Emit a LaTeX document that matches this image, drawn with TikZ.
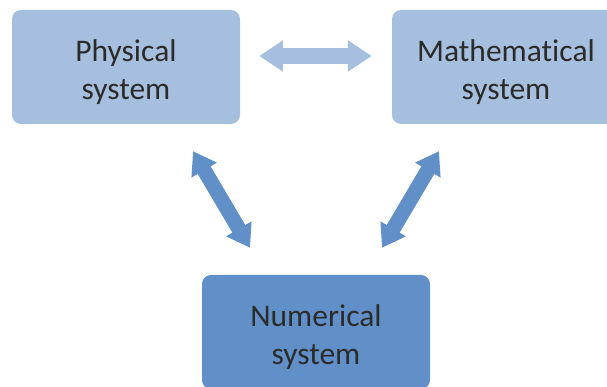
\documentclass[tikz,border=0pt]{standalone}
\usepackage{fontspec}
\setmainfont{Carlito}[Ligatures=NoCommon]
\usetikzlibrary{arrows.meta, positioning}
\definecolor{SysLight}{HTML}{A7BFDE}
\definecolor{SysDark}{HTML}{6190C8}
\definecolor{SysText}{HTML}{2B2B2B}
\tikzset{
    % Box styles - rounded corners
    lightsys/.style={
        rectangle,
        rounded corners=9pt,
        fill=SysLight,
        minimum width=228pt,
        minimum height=114pt,
        align=center,
        text height=73pt,
        text depth=7pt,
        text=SysText,
        font=\fontsize{31.5}{38}\selectfont
    },
    darksys/.style={
        lightsys,
        fill=SysDark
    },
    % Block arrow styles
    flatarrow/.style={
        {Triangle[length=24pt,width=30pt]}-{Triangle[length=24pt,width=30pt]},
        line width=16pt,
        draw=SysLight
    },
    slantarrow/.style={
        {Triangle[length=22pt,width=28pt]}-{Triangle[length=22pt,width=28pt]},
        line width=15pt,
        draw=SysDark
    }
}
\begin{document}
\begin{tikzpicture}[x=1pt, y=1pt]
    \useasboundingbox (0,0) rectangle (607,387);

    % Systems
    \node[lightsys] (phys) at (126,320) {Physical\\system};
    \node[lightsys] (math) at (506,320) {Mathematical\\system};
    \node[darksys] (num) at (316,55) {Numerical\\system};

    % Arrows between systems
    \draw[flatarrow, shorten <=19pt, shorten >=20pt]
        ([yshift=11pt]phys.east) -- ([yshift=11pt]math.west);
    \draw[slantarrow] ([xshift=67pt,yshift=-27pt]phys.south)
        -- ([xshift=-66pt,yshift=27pt]num.north);
    \draw[slantarrow] ([xshift=-67pt,yshift=-27pt]math.south)
        -- ([xshift=66pt,yshift=27pt]num.north);
\end{tikzpicture}
\end{document}
